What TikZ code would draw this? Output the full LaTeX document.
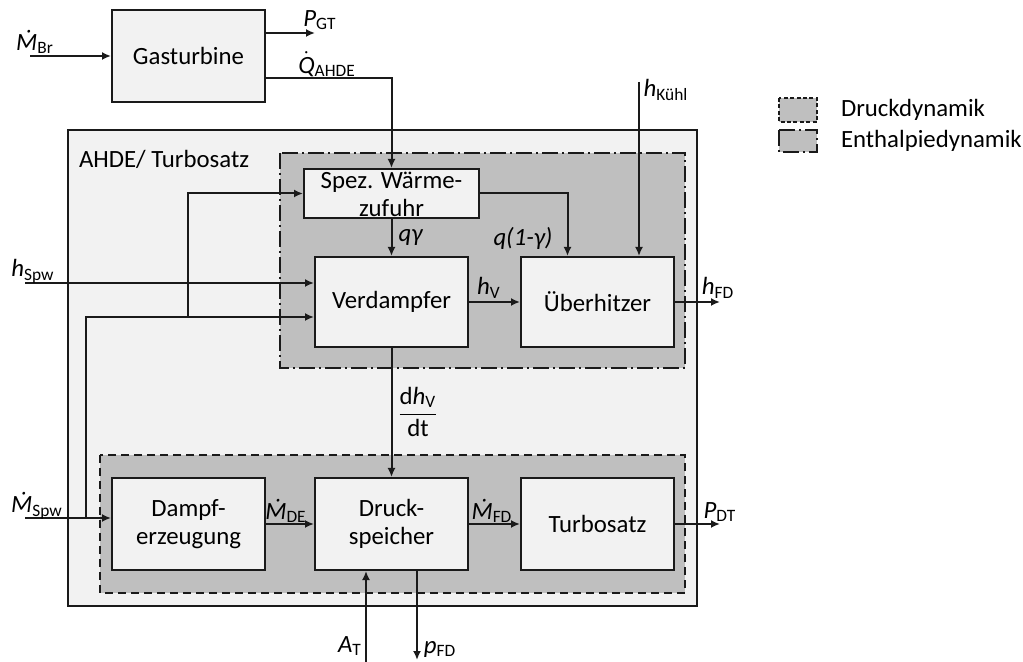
\documentclass[tikz,border=0pt]{standalone}
\usepackage{amsmath}
\usepackage{fontspec}
\setmainfont{Carlito}
\usetikzlibrary{positioning, arrows.meta}
\definecolor{boxgray}{HTML}{F2F2F2}
\definecolor{groupgray}{HTML}{BFBFBF}
\definecolor{linegray}{HTML}{1A1A1A}
\tikzset{
	blockbox/.style={draw=linegray, fill=boxgray, minimum width=76.5pt, minimum height=46pt,
		inner sep=0pt, align=center, font=\fontsize{12.4}{14}\selectfont}
}
\tikzset{
	sigtext/.style={inner sep=0pt, font=\fontsize{12.4}{14}\selectfont}
}
\newcommand{\sig}[2]{\textit{#1}\textsubscript{#2}}
\newcommand{\dsigm}[2]{$\dot{\textit{#1}}$\textsubscript{#2}}

\begin{document}
\begin{tikzpicture}[x=0.5pt, y=-0.5pt, line width=1pt, draw=linegray,
  >={Latex[length=4.5pt,width=4pt]}]
  \useasboundingbox (0,0) rectangle (1023,662);
  % groups
  \draw[fill=boxgray] (68,130) rectangle (697,606);
  \draw[fill=groupgray, dash pattern=on 8pt off 2pt on 1pt off 2pt] (280,153) rectangle (685,368);
  \draw[fill=groupgray, dash pattern=on 4pt off 2.5pt] (100,455) rectangle (685,593);
  \node[sigtext, anchor=west] (ahde) at (78,159) {AHDE/ Turbosatz};

  % blocks
  \node[blockbox] (gt) at (188.5,56) {Gasturbine};
  \node[blockbox, minimum width=87.5pt, minimum height=24.5pt,
    label={[sigtext, align=center, yshift=-0.5pt]center:Spez. Wärme-\\zufuhr}] (spez) at (391.5,193.5) {};
  \node[blockbox, minimum height=45pt] (verd) at (391.5,302) {Verdampfer};
  \node[blockbox, minimum height=45pt, right=25.5pt of verd] (ueber) {Überhitzer};
  \node[blockbox] (dampf) at (188.5,524) {Dampf-\\erzeugung};
  \node[blockbox] (druck) at (391.5,524) {Druck-\\speicher};
  \node[blockbox, right=25.5pt of druck] (turbo) {Turbosatz};

  % free ends
  \coordinate (mbr) at (30,56);
  \coordinate (pgt) at (315,33);
  \coordinate (hk) at (639,82);
  \coordinate (hspw) at (25,283);
  \coordinate (mspw) at (25,518);
  \coordinate (j1) at (86,518);
  \coordinate (j2) at (188,317);
  \coordinate (hfd) at (720,302);
  \coordinate (pdt) at (720,524);
  \coordinate (aT) at (366,662);
  \coordinate (pfd) at (417,660);

  % connectors
  \draw[->] (mbr) -- (gt.west);
  \draw[->] (gt.east |- pgt) -- (pgt);
  \draw[->] ([yshift=-11pt]gt.east) -| (spez.north);
  \draw[->] (hk) -- (hk |- ueber.north);
  \draw[->] (spez.east) -| ([xshift=-15pt]ueber.north);
  \draw[->] (spez.south) -- (verd.north);
  \draw[->] (verd.east) -- (ueber.west);
  \draw[->] (ueber.east) -- (hfd);
  \draw[->] (hspw) -- (hspw -| verd.west);
  \draw[->] (mspw) -- (mspw -| dampf.west);
  \draw[->] (j1) |- (j2) -- (j2 -| verd.west);
  \draw[->] (j2) |- (spez.west);
  \draw[->] (verd.south) -- (druck.north);
  \draw[->] (dampf.east) -- (druck.west);
  \draw[->] (druck.east) -- (turbo.west);
  \draw[->] (turbo.east) -- (pdt);
  \draw[->] (aT) -- (aT |- druck.south);
  \draw[->] (druck.south -| pfd) -- (pfd);

  % signal labels
  \node[sigtext] (lmbr) at (35,42) {\sig{Ṁ}{Br}};
  \node[sigtext] (lpgt) at (320,20) {\sig{P}{GT}};
  \node[sigtext] (lq) at (327,64) {\dsigm{Q}{AHDE}};
  \node[sigtext] (lhk) at (666,90) {\sig{h}{Kühl}};
  \node[sigtext] (lqg) at (411,238) {\textit{qγ}};
  \node[sigtext] (lqg1) at (523,238) {\textit{q(1-γ)}};
  \node[sigtext] (lhv) at (489,288) {\sig{h}{V}};
  \node[sigtext] (lhfd) at (718,288) {\sig{h}{FD}};
  \node[sigtext] (lhspw) at (33,271) {\sig{h}{Spw}};
  \node[sigtext] (lmspw) at (37,506) {\sig{Ṁ}{Spw}};
  \node[sigtext] (lmde) at (286,511) {\sig{Ṁ}{DE}};
  \node[sigtext] (lmfd) at (492,511) {\sig{Ṁ}{FD}};
  \node[sigtext] (lpdt) at (720,512) {\sig{P}{DT}};
  \node[sigtext] (lat) at (350,646) {\sig{A}{T}};
  \node[sigtext] (lpfd) at (440,649) {\sig{p}{FD}};
  \node[sigtext] (ldh) at (418,412) {$\dfrac{\text{d}\textit{h}_{\text{V}}}{\text{dt}}$};

  % legend
  \draw[fill=groupgray, dash pattern=on 2pt off 1.2pt] (779,98) rectangle (817,122);
  \draw[fill=groupgray, dash pattern=on 8pt off 2pt on 1pt off 2pt] (779,130) rectangle (817,152);
  \node[sigtext, anchor=west] (lgdruck) at (840,110) {Druckdynamik};
  \node[sigtext, anchor=west] (lgenth) at (840,141) {Enthalpiedynamik};
\end{tikzpicture}
\end{document}
